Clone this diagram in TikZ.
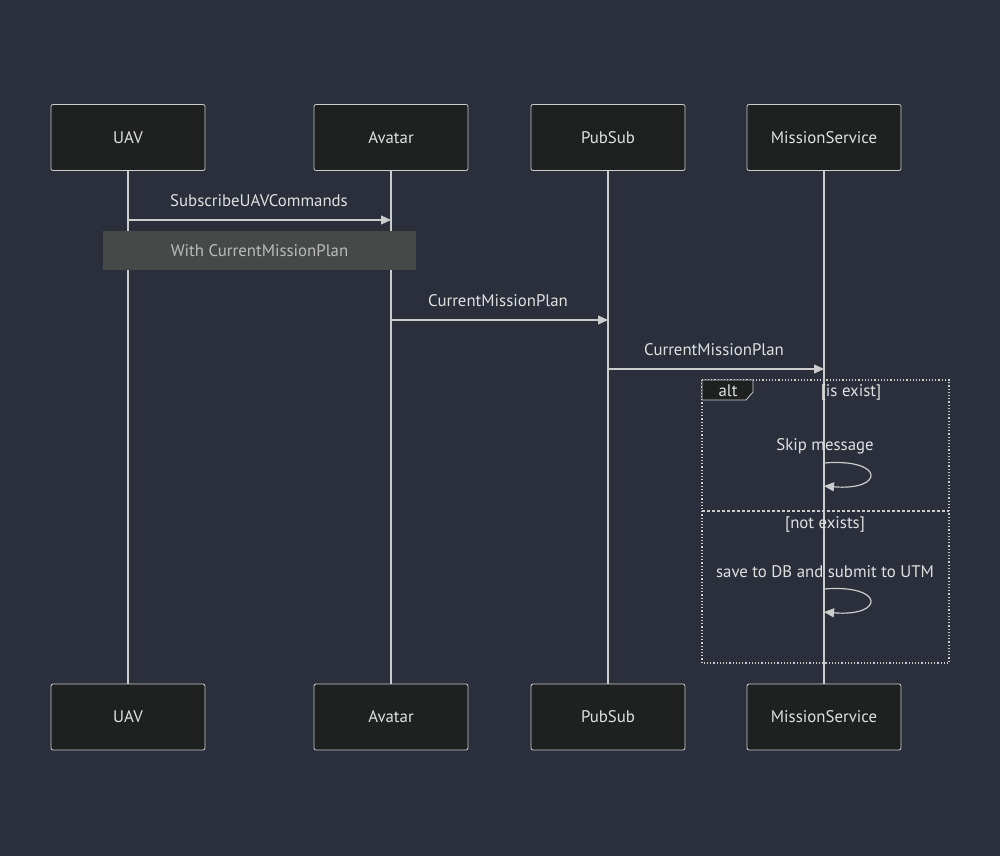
\documentclass[tikz,border=0pt]{standalone}
\usepackage{fontspec}
\setmainfont{PT Sans}
\usetikzlibrary{arrows.meta}
\definecolor{bg}{HTML}{2A2F3B}
\definecolor{boxf}{HTML}{1F2020}
\definecolor{ln}{HTML}{CCCCCC}
\definecolor{txt}{HTML}{E0E0E0}
\definecolor{notef}{HTML}{474949}
\definecolor{notet}{HTML}{BBBBBB}
\begin{document}
\begin{tikzpicture}[x=1pt,y=-1pt,
  actor/.style={draw=ln,fill=boxf,rounded corners=2pt,minimum width=154pt,minimum height=66pt,text=txt,font=\fontsize{16.8}{18}\selectfont,line width=0.8pt},
  life/.style={draw=ln,line width=1.2pt},
  msg/.style={draw=ln,line width=1.2pt,-{Triangle[length=10pt,width=9pt]}},
  lbl/.style={text=txt,font=\fontsize{16.8}{18}\selectfont},
  every node/.style={inner sep=0pt}]
\fill[bg] (0,0) rectangle (1000,856);
\useasboundingbox (0,0) rectangle (1000,856);
\foreach \n/\x/\t in {u/128/UAV,a/391/Avatar,p/608/PubSub,m/824/MissionService}{
  \node[actor] (\n t) at (\x,137.5) {\t};
  \node[actor] (\n b) at (\x,717) {\t};
  \draw[life] (\n t.south) -- (\n b.north);
}
\coordinate (m1s) at (128,220); \coordinate (m1e) at (391,220);
\draw[msg] (m1s) -- (m1e);
\node[lbl] (l1) at (259,201) {SubscribeUAVCommands};
\node[fill=notef,minimum width=313pt,minimum height=39pt,text=notet,font=\fontsize{16.8}{18}\selectfont] (note) at (259.5,250.5) {With CurrentMissionPlan};
\coordinate (m2s) at (391,320); \coordinate (m2e) at (608,320);
\draw[msg] (m2s) -- (m2e);
\node[lbl] (l2) at (498,301) {CurrentMissionPlan};
\coordinate (m3s) at (608,369); \coordinate (m3e) at (824,369);
\draw[msg] (m3s) -- (m3e);
\node[lbl] (l3) at (714,350) {CurrentMissionPlan};
% alt frame
\draw[ln,line width=1.2pt,dotted] (702,380) rectangle (949,663);
\draw[ln,line width=1.2pt,dash pattern=on 3pt off 2pt] (702,511) -- (949,511);
\draw[ln,fill=boxf,line width=0.8pt] (702,380) -- (753,380) -- (753,392) -- (746,400) -- (702,400) -- cycle;
\node[lbl] (alt) at (728,391) {alt};
\node[lbl] (c1) at (851,392) {[is exist]};
\node[lbl] (c2) at (825,524) {[not exists]};
\node[lbl] (s1) at (825,446) {Skip message};
\coordinate (a1) at (824,463); \coordinate (a2) at (824,486);
\draw[msg] (a1) .. controls (885,458) and (885,491) .. (a2);
\node[lbl] (s2) at (825,572) {save to DB and submit to UTM};
\coordinate (b1) at (824,589); \coordinate (b2) at (824,612);
\draw[msg] (b1) .. controls (885,584) and (885,617) .. (b2);
\end{tikzpicture}
\end{document}
